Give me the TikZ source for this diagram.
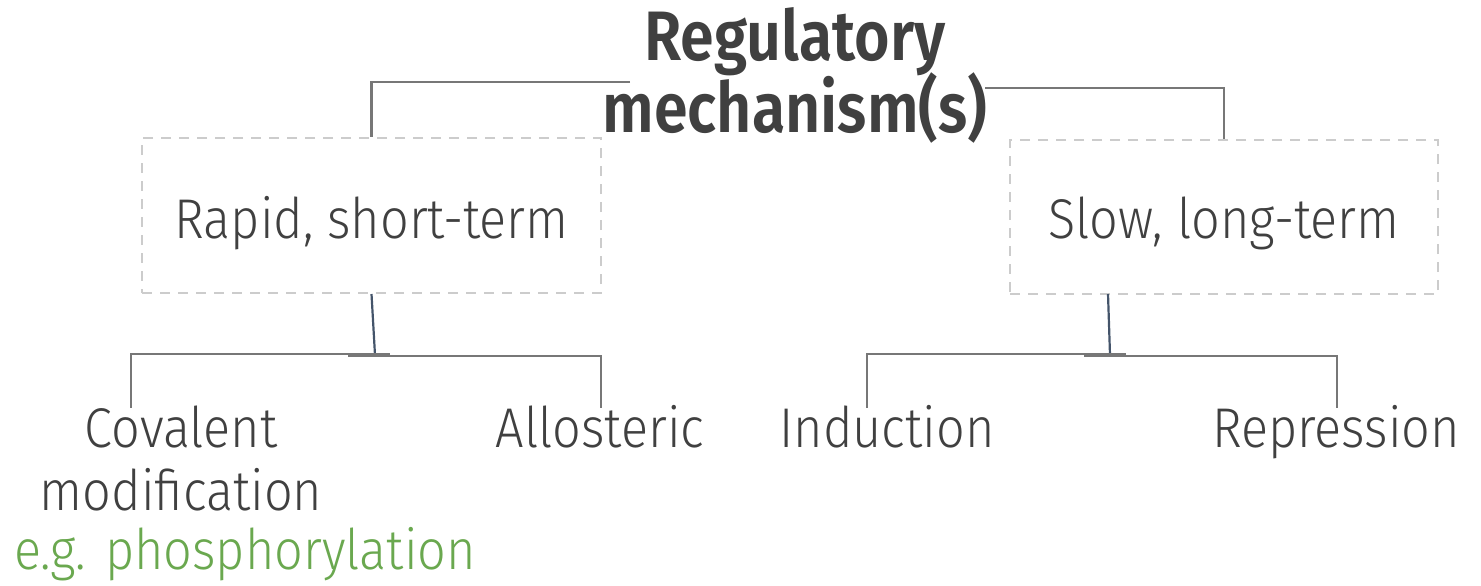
\documentclass[tikz,border=0pt]{standalone}
\usepackage{fontspec}
\setmainfont{Fira Sans Light}[FakeStretch=0.9]
\newfontfamily\titlefont{Fira Sans SemiBold}[FakeStretch=0.87]
\definecolor{txtgray}{HTML}{404040}
\definecolor{linegray}{HTML}{777777}
\definecolor{dashgray}{HTML}{CCCCCC}
\definecolor{stemblue}{HTML}{44546A}
\definecolor{egreen}{HTML}{6AA84F}
\tikzset{
  title/.style={text=txtgray, font=\fontsize{35}{36}\selectfont\titlefont, inner sep=0pt, anchor=base},
  label/.style={text=txtgray, font=\fontsize{28}{30}\selectfont, inner sep=0pt, anchor=base},
  dashbox/.style={draw=dashgray, dashed, dash pattern=on 5pt off 4pt, line width=1pt, text=txtgray,
    font=\fontsize{28}{30}\selectfont, inner sep=0pt, text depth=0pt},
  branch/.style={draw=linegray, line width=1.1pt},
  stem/.style={draw=stemblue, line width=1.1pt}
}
\begin{document}
\begin{tikzpicture}[x=0.5pt,y=-0.5pt]
\useasboundingbox (0,0) rectangle (1481,585);

% title
\node [title] (reg1) at (795,60) {Regulatory};
\node [title] (reg2) at (795,132) {mechanism(s)};

% the two time scales
\node [dashbox, minimum width=229.5pt, minimum height=77.5pt, text height=22.5pt] (rapid) at (371.5,215.5) {Rapid, short-term};
\node [dashbox, minimum width=214pt, minimum height=77pt, text height=21pt] (slow) at (1224,217) {Slow, long-term};

% mechanisms
\node [label] (cov1) at (181,447) {Covalent};
\node [label] (cov2) at (181,510) {modification};
\node [label, text=egreen] (eg) at (245,569) {e.g. phosphorylation};
\node [label] (allo) at (600,447) {Allosteric};
\node [label] (ind) at (887,447) {Induction};
\node [label] (rep) at (1336,447) {Repression};

\coordinate (ltop) at (630,82);
\coordinate (rtop) at (985,88);
\coordinate (rfoot) at (1108,294);
\coordinate (lstem) at (375,355);
\coordinate (rstem) at (1110,355);
\coordinate (la) at (390,354);
\coordinate (lb) at (348,356);
\coordinate (ra) at (1126,354);
\coordinate (rb) at (1084,356);
\coordinate (covtop) at (131,408);
\coordinate (allotop) at (601,408);
\coordinate (indtop) at (867,408);
\coordinate (reptop) at (1337,408);

\draw [branch] (ltop) -| (rapid.north);
\draw [branch] (rtop) -| (slow.north);
\draw [stem] (rapid.south) -- (lstem);
\draw [stem] (rfoot) -- (rstem);
\draw [branch] (la) -| (covtop);
\draw [branch] (lb) -| (allotop);
\draw [branch] (ra) -| (indtop);
\draw [branch] (rb) -| (reptop);
\end{tikzpicture}
\end{document}
